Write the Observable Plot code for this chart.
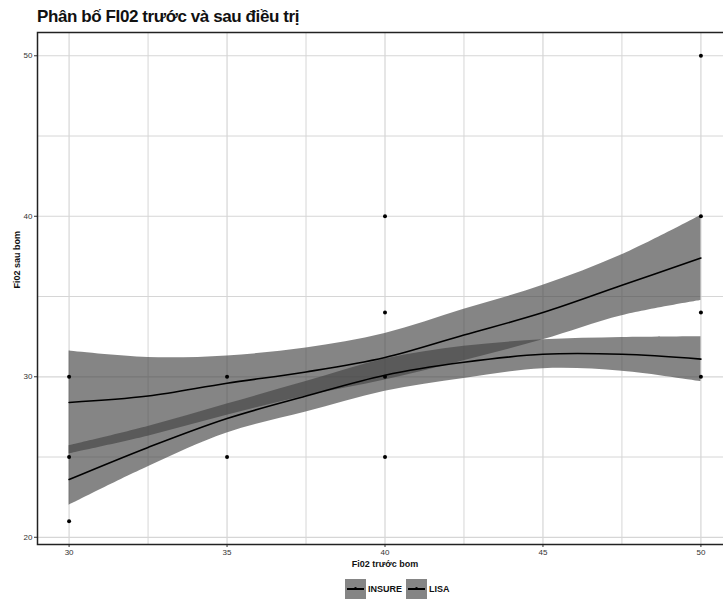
<!DOCTYPE html>
<html>
<head>
<meta charset="utf-8">
<script src="https://cdn.jsdelivr.net/npm/d3@7"></script>
<script src="https://cdn.jsdelivr.net/npm/@observablehq/plot@0.6"></script>
<style>
  body { margin: 0; background: #fff; font-family: "Liberation Sans", Arial, sans-serif; }
  #wrap { position: relative; width: 723px; height: 599px; overflow: hidden; }
  #title { position: absolute; left: 37px; top: 7px; font-size: 17px; font-weight: bold; color: #111; letter-spacing: -0.4px; white-space: nowrap; }
  #legend { position: absolute; left: 345px; top: 579px; display: flex; align-items: center; font-size: 9px; font-weight: bold; color: #111; }
  .sw { width: 21px; height: 20px; background: #858585; position: relative; margin-right: 2px; }
  .sw::after { content: ""; position: absolute; left: 2px; right: 2px; top: 9px; height: 1.5px; background: #000; }
  .sw::before { content: ""; position: absolute; left: 9px; top: 8px; width: 3px; height: 3px; border-radius: 50%; background: #000; }
  .lab { margin-right: 4px; }
  #plot { position: absolute; left: 0; top: 0; }
</style>
</head>
<body>
<div id="wrap">
  <div id="plot"></div>
  <div id="title">Phân bố FI02 trước và sau điều trị</div>
  <div id="legend">
    <div class="sw"></div><span class="lab">INSURE</span>
    <div class="sw"></div><span class="lab">LISA</span>
  </div>
</div>
<script>
// Observed points
const fioBefore = [30, 30, 30, 35, 35, 40, 40, 40, 40, 50, 50, 50, 50];
const fioAfter  = [30, 25, 21, 30, 25, 40, 34, 30, 25, 50, 40, 34, 30];

// Smooth fits
const smoothX   = [30, 32.5, 35, 37.5, 40, 42.5, 45, 47.5, 50];
const insureFit = [28.4, 28.8, 29.6, 30.3, 31.2, 32.6, 34.0, 35.7, 37.4];
const insureLo  = [25.2, 26.3, 27.6, 28.8, 29.8, 31.0, 32.3, 33.8, 34.75];
const insureHi  = [31.6, 31.2, 31.3, 31.8, 32.7, 34.2, 35.7, 37.6, 40.05];
const lisaFit   = [23.6, 25.6, 27.4, 28.8, 30.1, 30.9, 31.4, 31.4, 31.1];
const lisaLo    = [22.0, 24.4, 26.5, 27.8, 29.1, 29.9, 30.5, 30.35, 29.7];
const lisaHi    = [25.7, 26.9, 28.3, 29.7, 31.1, 31.9, 32.3, 32.45, 32.5];

const groups = ["INSURE", "LISA"];
const xTicks = [30, 35, 40, 45, 50];
const xMinor = [32.5, 37.5, 42.5, 47.5];
const yTicks = [20, 30, 40, 50];
const yMinor = [25, 35, 45];

const points = fioBefore.map((x, i) => ({x, y: fioAfter[i]}));
const fits = [];
smoothX.forEach((x, i) => {
  fits.push({group: groups[0], x, fit: insureFit[i], lo: insureLo[i], hi: insureHi[i]});
});
smoothX.forEach((x, i) => {
  fits.push({group: groups[1], x, fit: lisaFit[i], lo: lisaLo[i], hi: lisaHi[i]});
});

const gridColor = "#d6d6d6";
const chart = Plot.plot({
  width: 723,
  height: 599,
  marginLeft: 37,
  marginRight: -9,
  marginTop: 32,
  marginBottom: 55,
  style: {fontFamily: "Liberation Sans, Arial, sans-serif", background: "transparent"},
  x: {domain: [29, 51], ticks: xTicks, label: null},
  y: {domain: [19.55, 51.45], ticks: yTicks, label: null},
  marks: [
    Plot.ruleX(xMinor, {stroke: gridColor, strokeWidth: 1}),
    Plot.ruleY(yMinor, {stroke: gridColor, strokeWidth: 1}),
    Plot.ruleX(xTicks, {stroke: gridColor, strokeWidth: 1.2}),
    Plot.ruleY(yTicks, {stroke: gridColor, strokeWidth: 1.2}),
    Plot.areaY(fits, {x: "x", y1: "lo", y2: "hi", z: "group", fill: "#434343", fillOpacity: 0.65, curve: "catmull-rom"}),
    Plot.line(fits, {x: "x", y: "fit", z: "group", stroke: "#000", strokeWidth: 1.6, curve: "catmull-rom"}),
    Plot.dot(points, {x: "x", y: "y", r: 2, fill: "#000", stroke: null}),
    Plot.axisX(xTicks, {tickSize: 3, tickPadding: 2, fontSize: 8, fill: "#333", stroke: "#333", label: null}),
    Plot.axisY(yTicks, {tickSize: 3, tickPadding: 2, fontSize: 8, fill: "#333", stroke: "#333", label: null}),
    Plot.text(["Fi02 trước bom"], {frameAnchor: "bottom", dy: 22, fontSize: 9, fontWeight: "bold", fill: "#111"}),
    Plot.text(["Fi02 sau bom"], {frameAnchor: "left", dx: -20, rotate: -90, fontSize: 9, fontWeight: "bold", fill: "#111"}),
    Plot.frame({stroke: "#222", strokeWidth: 1.5})
  ]
});
document.getElementById("plot").appendChild(chart);
</script>
</body>
</html>
